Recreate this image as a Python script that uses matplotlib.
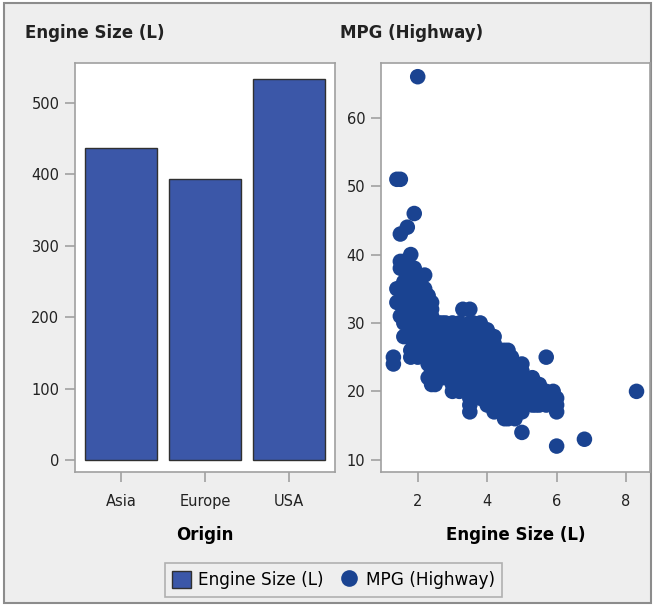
import numpy as np
import matplotlib.pyplot as plt
from matplotlib.patches import Rectangle
from matplotlib.lines import Line2D

# bar panel: sum of engine size by origin
origins = ["Asia", "Europe", "USA"]
engine_sum = [437, 394, 534]

# scatter panel: engine size (L) -> list of highway MPG values
mpg_by_engine = {
    1.3: [24, 25],
    1.4: [51, 35, 33],
    1.5: [51, 43, 39, 38, 35, 33, 31],
    1.6: [39, 38, 36, 34, 33, 32, 30, 28],
    1.7: [44, 38, 37, 36, 35, 33, 28],
    1.8: [40, 38, 36, 35, 34, 33, 32, 31, 30, 29, 28, 26, 25],
    1.9: [46, 38, 36, 34, 32, 27],
    2.0: [66, 37, 36, 35, 34, 33, 32, 31, 30, 29, 28, 27, 26, 25],
    2.2: [37, 35, 34, 33, 32, 31, 30, 29, 28, 27, 26, 25],
    2.3: [34, 33, 31, 30, 29, 28, 27, 26, 25, 24, 22],
    2.4: [33, 32, 31, 30, 29, 28, 27, 26, 25, 24, 23, 22, 21],
    2.5: [30, 29, 28, 27, 26, 25, 24, 23, 22, 21],
    2.6: [30, 28, 26, 25, 24],
    2.7: [30, 29, 28, 27, 26, 25, 24, 23, 22],
    2.8: [30, 29, 28, 27, 26, 25, 24, 23, 22],
    3.0: [30, 29, 28, 27, 26, 25, 24, 23, 22, 21, 20],
    3.2: [30, 29, 28, 27, 26, 25, 24, 23, 22, 21, 20],
    3.3: [32, 29, 28, 27, 26, 25, 24, 23, 22, 21],
    3.5: [32, 30, 29, 28, 27, 26, 25, 24, 23, 22, 21, 20, 19, 18, 17],
    3.6: [30, 28, 27, 26, 25, 24, 23, 22, 21, 20],
    3.8: [30, 29, 28, 27, 26, 25, 24, 23, 22, 21, 20, 19],
    4.0: [29, 28, 26, 25, 24, 23, 22, 21, 20, 19, 18],
    4.2: [28, 27, 26, 25, 24, 23, 22, 21, 20, 19, 18, 17],
    4.4: [26, 25, 24, 23, 22, 21, 20, 19, 18, 17],
    4.5: [26, 25, 23, 22, 21, 20, 19, 18, 17, 16],
    4.6: [26, 25, 24, 23, 22, 21, 20, 19, 18, 17, 16],
    4.7: [25, 24, 23, 22, 21, 20, 19, 18, 17],
    4.8: [24, 23, 22, 21, 20, 19, 18, 17, 16],
    5.0: [24, 23, 22, 21, 20, 19, 18, 17, 14],
    5.3: [22, 21, 20, 19, 18],
    5.4: [21, 20, 19, 18],
    5.5: [21, 20, 19, 18],
    5.7: [25, 20, 19, 18],
    5.9: [20, 19, 18],
    6.0: [19, 18, 17, 12],
    6.8: [13],
    8.3: [20],
}

engine = [e for e, vals in mpg_by_engine.items() for _ in vals]
mpg = [v for vals in mpg_by_engine.values() for v in vals]

bar_color = "#3B57A8"
dot_color = "#1A4391"
frame_gray = "#A0A0A0"
text_col = "#222222"

plt.rcParams["font.family"] = ["DejaVu Sans"]

fig = plt.figure(figsize=(6.55, 6.06), dpi=100)
fig.patch.set_facecolor("white")
fig.patches.append(Rectangle((0.006, 0.005), 0.988, 0.99, transform=fig.transFigure,
                             facecolor="#EEEEEE", edgecolor="#8C8C8C", linewidth=1.5,
                             zorder=-10))

ax1 = fig.add_axes([0.114, 0.221, 0.398, 0.675])
ax2 = fig.add_axes([0.581, 0.221, 0.412, 0.675])

for ax in (ax1, ax2):
    ax.set_facecolor("white")
    for s in ax.spines.values():
        s.set_color(frame_gray)
        s.set_linewidth(1.2)
    ax.tick_params(direction="out", length=7, width=1.2, color=frame_gray,
                   labelsize=10.5, labelcolor=text_col, pad=4)
    ax.tick_params(axis="x", pad=9)

# bars
x = np.arange(len(origins))
ax1.bar(x, engine_sum, width=0.86, color=bar_color, edgecolor="#303030", linewidth=1)
ax1.set_xticks(x)
ax1.set_xticklabels(origins)
ax1.set_xlim(-0.55, 2.55)
ax1.set_ylim(-17, 556)
ax1.set_yticks([0, 100, 200, 300, 400, 500])
ax1.set_xlabel("Origin", fontsize=12, fontweight="bold", labelpad=12)

# scatter
ax2.scatter(engine, mpg, s=125, color=dot_color, edgecolors="none", zorder=3)
ax2.set_xlim(0.93, 8.7)
ax2.set_ylim(8.2, 68)
ax2.set_xticks([2, 4, 6, 8])
ax2.set_yticks([10, 20, 30, 40, 50, 60])
ax2.set_xlabel("Engine Size (L)", fontsize=12, fontweight="bold", labelpad=12)

fig.text(0.038, 0.938, "Engine Size (L)", fontsize=12, fontweight="bold", color=text_col)
fig.text(0.519, 0.938, "MPG (Highway)", fontsize=12, fontweight="bold", color=text_col)

handles = [
    Rectangle((0, 0), 1, 1, facecolor=bar_color, edgecolor="#303030"),
    Line2D([], [], marker="o", linestyle="none", markersize=12,
           markerfacecolor=dot_color, markeredgecolor="none"),
]
leg = fig.legend(handles, ["Engine Size (L)", "MPG (Highway)"], loc="center",
                 bbox_to_anchor=(0.509, 0.043), ncol=2, frameon=True, fancybox=False,
                 fontsize=12.2, handlelength=1.1, handleheight=1.2, handletextpad=0.4,
                 columnspacing=1.0, borderpad=0.45)
leg.get_frame().set_edgecolor(frame_gray)
leg.get_frame().set_facecolor("#EEEEEE")
leg.get_frame().set_linewidth(1.2)

fig.savefig("out.png", dpi=100)
